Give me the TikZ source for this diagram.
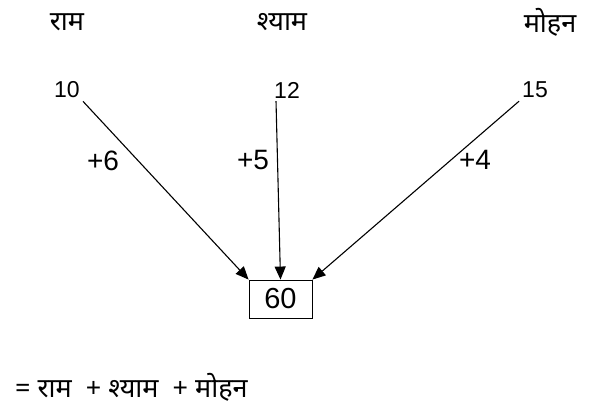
\documentclass[tikz,border=0pt]{standalone}
\usepackage{fontspec}
\setmainfont{Liberation Sans}
\newfontfamily\hindi[Script=Devanagari]{Noto Sans}
\usetikzlibrary{arrows.meta, positioning}

\begin{document}
\begin{tikzpicture}[
    x=1pt, y=-1pt,
    >={Triangle[length=13pt,width=11pt]},
    namelbl/.style={font=\hindi\fontsize{27}{32}\selectfont, inner sep=2pt},
    valnode/.style={font=\fontsize{23}{27}\selectfont, inner sep=3pt},
    steplbl/.style={font=\fontsize{28}{33}\selectfont, inner sep=2pt},
    sumbox/.style={draw, line width=0.9pt, font=\fontsize{29}{34}\selectfont,
                   minimum width=63pt, minimum height=38pt, inner sep=0pt},
    arr/.style={->, line width=1.1pt},
]
\useasboundingbox (0,0) rectangle (591,408);

% names
\node[namelbl] (ram)   at (67,22)  {राम};
\node[namelbl] (shyam) at (282,22) {श्याम};
\node[namelbl] (mohan) at (550,22) {मोहन};

% values
\node[valnode] (v10) at (67,90)  {10};
\node[valnode] (v12) at (287,90) {12};
\node[valnode] (v15) at (535,90) {15};

\node[sumbox] (total) at (280.5,299) {60};

\draw[arr] (v10.south east) -- (total.north west);
\draw[arr] ([xshift=5pt]v12.south west) -- (total.north);
\draw[arr] (v15.south west) -- (total.north east);

\node[steplbl] (l6) at (103,161) {+6};
\node[steplbl] (l5) at (253,160) {+5};
\node[steplbl] (l4) at (475,160) {+4};

\node[namelbl, anchor=west] (sum) at (13,387) {= राम \ + श्याम \ + मोहन};
\end{tikzpicture}
\end{document}
